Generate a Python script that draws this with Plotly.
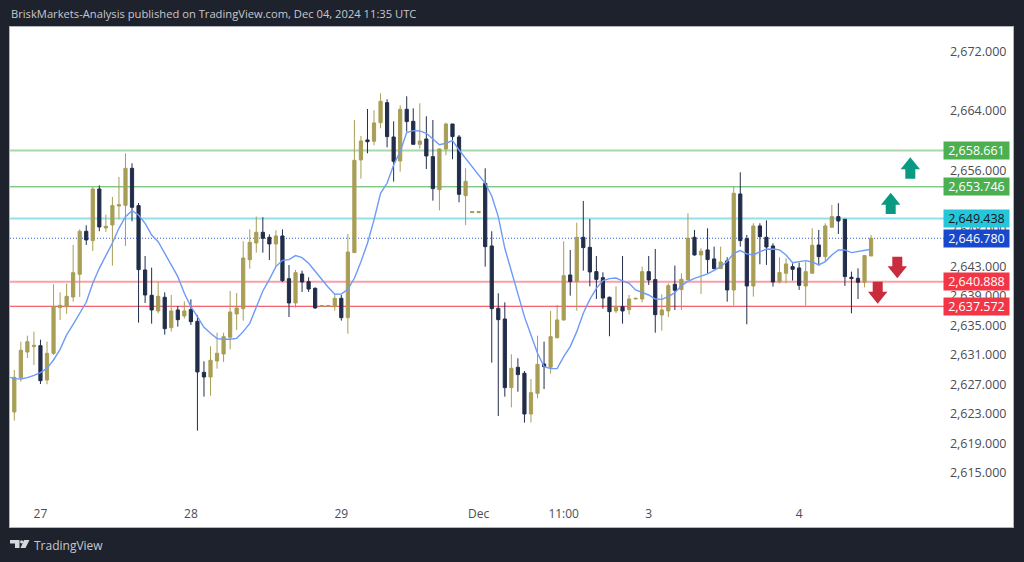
import plotly.graph_objects as go

opens = [2623.26,2627.91,2631.38,2632.11,2632.24,2627.59,2631.20,2637.39,2637.52,2638.83,2641.90,2647.72,2646.46,2653.45,2648.17,2648.58,2651.15,2651.24,2656.25,2651.20,2642.49,2639.06,2636.94,2638.79,2634.68,2637.07,2636.26,2637.12,2635.54,2628.63,2628.00,2630.17,2631.11,2633.37,2636.53,2637.25,2643.88,2646.14,2647.59,2646.91,2646.01,2647.09,2641.31,2638.02,2641.94,2640.91,2640.00,2637.57,2637.57,2637.52,2638.65,2636.03,2644.83,2657.38,2660.09,2659.91,2662.43,2665.14,2660.49,2657.24,2664.24,2662.61,2659.50,2660.22,2657.83,2653.36,2658.87,2662.25,2660.49,2652.55,2650.25,2650.25,2654.22,2645.74,2637.30,2635.85,2626.56,2629.31,2628.50,2622.99,2625.79,2629.76,2629.31,2633.32,2635.72,2641.81,2640.91,2646.91,2645.55,2642.26,2641.45,2638.79,2636.94,2637.52,2637.12,2638.56,2638.56,2642.26,2641.18,2636.39,2636.94,2640.55,2639.83,2641.14,2646.91,2644.52,2645.20,2643.98,2642.67,2643.71,2639.78,2652.78,2646.73,2640.32,2648.45,2646.91,2645.74,2640.86,2642.04,2642.94,2642.76,2640.32,2642.04,2645.87,2644.29,2648.27,2649.71,2649.35,2641.50,2641.36,2640.82,2644.38]
highs = [2628.95,2632.78,2633.60,2634.14,2633.05,2632.78,2640.55,2639.46,2640.64,2645.87,2647.99,2648.53,2653.68,2653.95,2649.98,2652.37,2655.08,2658.28,2656.93,2651.56,2644.38,2642.80,2640.86,2639.46,2639.10,2637.61,2638.24,2638.51,2636.39,2630.12,2632.15,2634.00,2634.00,2639.64,2639.37,2646.37,2647.99,2649.71,2649.62,2647.31,2647.86,2647.99,2643.16,2642.49,2642.40,2641.49,2640.14,2637.70,2637.70,2639.10,2639.10,2647.36,2662.79,2660.63,2664.28,2664.10,2666.40,2665.59,2662.61,2664.78,2666.00,2664.37,2665.05,2663.29,2662.79,2658.96,2662.43,2662.25,2660.76,2656.25,2650.40,2650.40,2656.25,2647.72,2639.33,2638.11,2631.07,2630.53,2628.81,2627.73,2633.60,2632.78,2636.94,2637.75,2646.37,2645.19,2648.89,2651.83,2649.39,2644.38,2642.17,2638.88,2640.27,2644.38,2639.10,2638.70,2642.94,2644.38,2645.33,2639.19,2640.68,2643.08,2642.04,2650.16,2647.90,2645.42,2648.13,2645.65,2645.65,2644.20,2653.77,2655.71,2647.23,2648.81,2648.81,2649.21,2646.10,2644.20,2644.07,2643.39,2643.48,2643.62,2648.13,2647.90,2648.81,2651.29,2651.52,2649.35,2642.26,2642.71,2644.52,2647.23]
lows = [2622.09,2627.37,2630.57,2629.62,2627.05,2627.01,2630.98,2635.72,2636.57,2638.20,2638.83,2645.87,2645.06,2647.72,2647.63,2643.07,2649.35,2645.74,2649.08,2635.36,2638.02,2635.22,2636.62,2633.73,2634.14,2634.81,2635.90,2635.04,2620.73,2625.34,2625.47,2629.13,2630.03,2631.74,2634.36,2635.63,2642.67,2644.83,2644.83,2643.84,2642.94,2640.86,2636.12,2637.39,2639.51,2639.51,2637.25,2637.52,2637.52,2636.98,2635.63,2633.87,2644.83,2654.85,2658.28,2659.36,2661.67,2659.09,2654.45,2655.80,2661.21,2659.50,2658.91,2656.16,2651.87,2650.56,2658.01,2657.47,2651.65,2648.58,2650.23,2650.23,2642.94,2629.94,2622.72,2625.34,2623.89,2626.01,2621.82,2621.82,2625.11,2626.37,2628.45,2633.23,2635.63,2639.01,2636.98,2642.40,2640.27,2638.56,2637.25,2633.51,2636.66,2635.22,2636.44,2638.54,2638.11,2640.46,2634.00,2634.27,2636.12,2637.07,2637.07,2641.14,2644.43,2639.24,2642.04,2642.58,2642.67,2638.20,2637.66,2645.65,2635.13,2638.88,2643.26,2643.17,2640.23,2640.68,2640.68,2641.05,2639.78,2637.66,2642.04,2643.08,2643.62,2648.27,2647.36,2640.32,2636.62,2638.56,2640.14,2644.38]
closes = [2627.95,2631.61,2632.78,2632.29,2627.50,2631.20,2637.52,2637.70,2638.92,2642.12,2647.72,2646.55,2653.45,2648.31,2648.40,2651.20,2651.33,2656.25,2650.97,2642.53,2639.10,2637.07,2638.92,2634.54,2636.94,2635.76,2636.94,2635.49,2628.68,2628.00,2630.26,2631.20,2633.46,2636.80,2637.34,2644.11,2646.23,2647.59,2646.77,2646.01,2647.09,2641.04,2638.02,2642.12,2640.86,2639.91,2637.34,2637.66,2637.66,2638.65,2636.03,2644.92,2657.33,2659.95,2659.86,2662.39,2665.32,2660.54,2657.20,2664.24,2662.57,2659.50,2659.95,2657.92,2653.50,2658.87,2662.25,2660.54,2652.73,2654.49,2650.38,2650.38,2645.64,2637.25,2635.76,2626.56,2629.17,2628.32,2622.99,2625.88,2629.71,2629.40,2633.46,2635.72,2641.72,2640.91,2646.91,2645.51,2642.22,2641.22,2638.69,2636.84,2637.52,2636.94,2638.56,2638.65,2642.26,2641.13,2636.44,2637.07,2640.36,2639.74,2641.23,2646.78,2644.52,2645.02,2643.89,2642.67,2643.57,2639.78,2652.87,2646.46,2640.32,2648.45,2647.00,2645.60,2640.86,2642.13,2643.30,2642.58,2640.41,2642.26,2645.83,2644.29,2648.45,2649.71,2649.12,2641.59,2641.32,2640.82,2644.43,2646.78]

ma_values = [2628.04,2627.77,2627.72,2627.91,2628.22,2628.59,2629.17,2630.30,2631.74,2633.69,2635.13,2636.53,2638.11,2640.68,2642.71,2644.43,2646.14,2648.13,2649.71,2650.52,2649.93,2648.80,2647.22,2646.32,2644.74,2643.25,2641.58,2639.33,2637.52,2636.17,2634.72,2633.91,2633.19,2633.10,2633.10,2633.23,2634.14,2635.26,2637.52,2639.64,2641.22,2642.94,2643.79,2643.88,2644.43,2644.16,2643.39,2642.26,2641.27,2640.14,2639.19,
2639.24,2639.87,2641.36,2643.61,2646.10,2649.26,2652.87,2654.22,2656.70,2658.51,2661.08,2661.35,2661.31,2660.99,2660.18,2659.45,2659.64,2660.00,2658.73,2657.60,2656.57,2655.35,2654.22,2652.50,2649.71,2645.42,2642.26,2639.33,2636.17,2633.69,2631.20,2629.40,2629.13,2629.13,2630.75,2632.11,2634.14,2636.62,2638.51,2640.00,2641.04,2641.31,2641.40,2641.00,2640.68,2639.78,2639.42,2639.10,2638.56,2638.51,2638.88,
2639.42,2640.37,2640.95,2641.36,2641.63,2641.95,2642.44,2642.94,2643.62,2644.75,2645.11,2644.66,2644.52,2644.97,2645.29,2645.33,2645.20,2644.52,2643.48,2643.57,2643.75,2643.57,2643.17,2643.62,2644.52,2645.20,2645.20,2644.84,2644.97,2645.20,2645.29]

time_ticks = [4, 27, 50, 71, 84, 97, 120]
time_labels = ["27", "28", "29", "Dec", "11:00", "3", "4"]
price_ticks = [2672, 2664, 2656, 2648, 2643, 2639, 2635, 2631, 2627, 2623, 2619, 2615]

level_values = [2658.661, 2653.746, 2649.438, 2646.780, 2640.888, 2637.572]
level_labels = ["2,658.661", "2,653.746", "2,649.438", "2,646.780", "2,640.888", "2,637.572"]
level_colors = ["#a7d8a9", "#4caf50", "#93e0e8", "#2f5ad6", "#f9a0a8", "#f23645"]
level_widths = [2, 1, 2, 1, 2, 1]
level_dash = ["solid", "solid", "solid", "1px,2px", "solid", "solid"]
box_colors = ["#4caf50", "#4caf50", "#26c6da", "#1848cc", "#f23645", "#f23645"]
box_text = ["white", "white", "#131722", "white", "white", "white"]

BG = "#1e222d"
GOLD = "#a89e55"
DARK = "#222d4a"
W, H = 1024, 562
L, R, T, B = 10, 1013, 27, 527

def px(x):
    return (x - L) / (R - L)
def py(y):
    return (B - y) / (B - T)

def path(points):
    return "M " + " L ".join(f"{px(a):.5f},{py(b):.5f}" for a, b in points) + " Z"

def arrow(cx, top, bottom, up, color):
    hw, sw, hh = 9.7, 5, 12
    if up:
        pts = [(cx, top), (cx + hw, top + hh), (cx + sw, top + hh), (cx + sw, bottom),
               (cx - sw, bottom), (cx - sw, top + hh), (cx - hw, top + hh)]
    else:
        pts = [(cx, bottom), (cx + hw, bottom - hh), (cx + sw, bottom - hh), (cx + sw, top),
               (cx - sw, top), (cx - sw, bottom - hh), (cx - hw, bottom - hh)]
    return dict(type="path", xref="paper", yref="paper", path=path(pts),
                fillcolor=color, line=dict(width=0), layer="above")

fig = go.Figure()
fig.add_trace(go.Candlestick(
    x=list(range(len(opens))), open=opens, high=highs, low=lows, close=closes,
    increasing=dict(line=dict(color=GOLD, width=1), fillcolor=GOLD),
    decreasing=dict(line=dict(color=DARK, width=1), fillcolor=DARK),
    whiskerwidth=0, showlegend=False, hoverinfo="skip"))
fig.add_trace(go.Scatter(
    x=list(range(-1, len(ma_values) - 1)), y=ma_values, mode="lines",
    line=dict(color="#6d9bf7", width=1.4), showlegend=False, hoverinfo="skip"))

shapes = []
for v, c, w, d in zip(level_values, level_colors, level_widths, level_dash):
    shapes.append(dict(type="line", xref="paper", yref="y", x0=0, x1=px(944), y0=v, y1=v,
                       line=dict(color=c, width=w, dash=d), layer="below"))
shapes += [
    arrow(910.3, 157.3, 178.7, True, "#0a9a82"),
    arrow(890.7, 192.7, 214.0, True, "#0a9a82"),
    arrow(897.3, 256.7, 278.3, False, "#c92c3c"),
    arrow(877.7, 281.7, 303.7, False, "#c92c3c"),
]
# TradingView logo
shapes += [
    dict(type="path", xref="paper", yref="paper", line=dict(width=0), fillcolor="#d6d8dc",
         path=path([(10, 540), (19.5, 540), (19.5, 548), (15, 548), (15, 543.5), (10, 543.5)])),
    dict(type="path", xref="paper", yref="paper", line=dict(width=0), fillcolor="#d6d8dc",
         path=path([(24, 540), (29.5, 540), (25.5, 548), (20.5, 548)])),
    dict(type="circle", xref="paper", yref="paper", line=dict(width=0), fillcolor="#d6d8dc",
         x0=px(20), x1=px(23.2), y0=py(540.2), y1=py(543.4)),
]

annotations = []
for v, t, bc, tc in zip(level_values, level_labels, box_colors, box_text):
    annotations.append(dict(xref="paper", yref="y", x=px(976.5), y=v, text=t, showarrow=False,
                            xanchor="center", yanchor="middle", width=63, height=15,
                            bgcolor=bc, borderpad=1,
                            font=dict(family="Open Sans", size=12.5, color=tc)))
annotations.append(dict(xref="paper", yref="paper", x=px(9), y=py(14), xanchor="left", yanchor="middle",
                        text="BriskMarkets-Analysis published on TradingView.com, Dec 04, 2024 11:35 UTC",
                        showarrow=False, font=dict(family="Open Sans", size=11.2, color="#c6c8ce")))
annotations.append(dict(xref="paper", yref="paper", x=px(31.5), y=py(545), xanchor="left", yanchor="middle",
                        text="TradingView", showarrow=False,
                        font=dict(family="Open Sans", size=12, color="#c6c8ce")))

fig.update_layout(
    width=W, height=H, paper_bgcolor=BG, plot_bgcolor="white",
    margin=dict(l=L, r=W - R, t=T, b=H - B, pad=0),
    shapes=shapes, annotations=annotations, showlegend=False,
    xaxis=dict(range=[-0.657, 152.7], rangeslider=dict(visible=False), showgrid=False, zeroline=False,
               tickvals=time_ticks, ticktext=time_labels, ticks="", ticklabelposition="inside",
               ticklabelstandoff=6, tickfont=dict(family="Open Sans", size=12, color="#4a4d55"),
               showline=True, linecolor="#b2b5be", linewidth=1, mirror=True),
    yaxis=dict(range=[2607.69, 2675.38], side="right", showgrid=False, zeroline=False,
               tickvals=price_ticks, tickformat=",.3f", ticks="", ticklabelposition="inside",
               ticklabelstandoff=6, tickfont=dict(family="Open Sans", size=12.5, color="#4a4d55"),
               showline=True, linecolor="#b2b5be", linewidth=1, mirror=True),
)

fig.write_html("out.html", config=dict(displayModeBar=False),
               post_script="document.body.style.margin='0';")
